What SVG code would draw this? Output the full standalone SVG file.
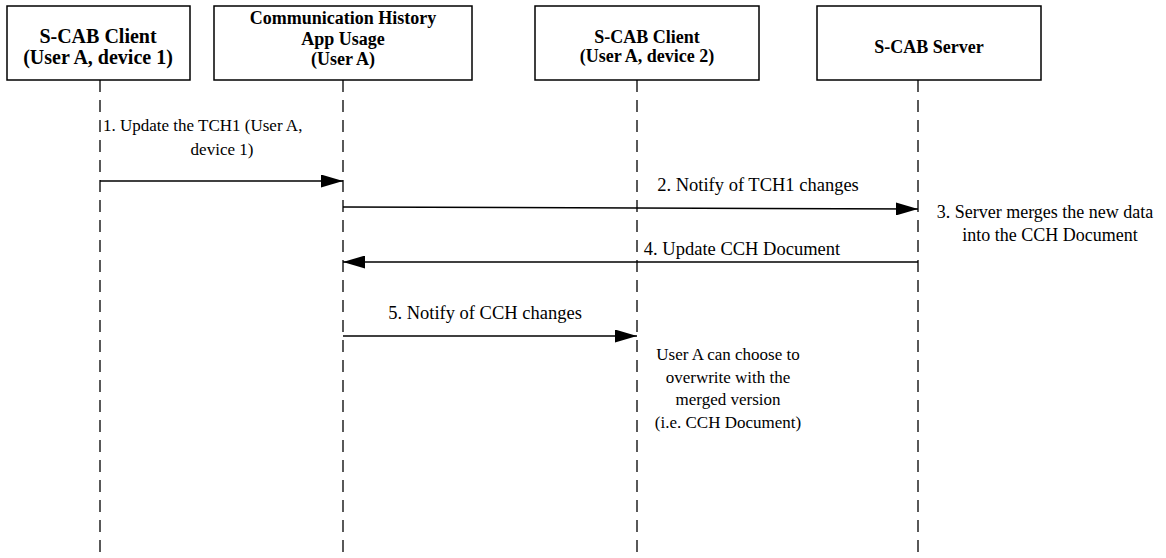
<svg xmlns="http://www.w3.org/2000/svg" width="1166" height="558" viewBox="0 0 1166 558">
<style>
.box{fill:#fff;stroke:#000;stroke-width:1.5}
.life{stroke:#000;stroke-width:1.3;stroke-dasharray:12 8;fill:none}
.msg{stroke:#000;stroke-width:1.5;fill:none}
.hd{font-family:"Liberation Serif","Times New Roman",serif;font-weight:bold;font-size:18px;text-anchor:middle;fill:#000}
.big{font-size:20px}
.lb{font-family:"Liberation Serif","Times New Roman",serif;font-size:17px;fill:#000}
.lb2{font-size:18.5px}
.mid{text-anchor:middle}
</style>
<defs>
<marker id="ah" markerWidth="22" markerHeight="13" refX="22" refY="6.5" orient="auto" markerUnits="userSpaceOnUse">
<path d="M0,0 L22,6.5 L0,13 Z" fill="#000"/>
</marker>
</defs>
<g id="lifelines">
<line class="life" x1="100" y1="80" x2="100" y2="558"/>
<line class="life" x1="343" y1="80" x2="343" y2="558"/>
<line class="life" x1="637" y1="80" x2="637" y2="558"/>
<line class="life" x1="918" y1="80" x2="918" y2="558"/>
</g>
<g id="client1">
<rect class="box" x="7" y="6" width="183" height="74"/>
<text class="hd big" x="98" y="43">S-CAB Client</text>
<text class="hd big" x="98" y="64">(User A, device 1)</text>
</g>
<g id="history">
<rect class="box" x="214" y="6" width="258" height="74"/>
<text class="hd" x="343" y="24">Communication History</text>
<text class="hd" x="343" y="45">App Usage</text>
<text class="hd" x="343" y="65">(User A)</text>
</g>
<g id="client2">
<rect class="box" x="535" y="6" width="224" height="74"/>
<text class="hd" x="647" y="43">S-CAB Client</text>
<text class="hd" x="647" y="62">(User A, device 2)</text>
</g>
<g id="server">
<rect class="box" x="817" y="6" width="224" height="74"/>
<text class="hd" x="929" y="53">S-CAB Server</text>
</g>
<g id="connectors">
<line class="msg" x1="100" y1="181" x2="343" y2="181" marker-end="url(#ah)"/>
<line class="msg" x1="343" y1="207" x2="918" y2="209" marker-end="url(#ah)"/>
<line class="msg" x1="918" y1="262" x2="343" y2="262" marker-end="url(#ah)"/>
<line class="msg" x1="343" y1="336" x2="637" y2="336" marker-end="url(#ah)"/>
</g>
<g id="labels">
<text class="lb" x="103" y="131">1. Update the TCH1 (User A,</text>
<text class="lb mid" x="222" y="155">device 1)</text>
<text class="lb lb2 mid" x="758" y="191">2. Notify of TCH1 changes</text>
<text class="lb mid" x="1045" y="218" style="font-size:18px">3. Server merges the new data</text>
<text class="lb mid" x="1050" y="241" style="font-size:18px">into the CCH Document</text>
<text class="lb lb2 mid" x="742" y="255">4. Update CCH Document</text>
<text class="lb lb2 mid" x="485" y="319">5. Notify of CCH changes</text>
<text class="lb mid" x="728" y="360">User A can choose to</text>
<text class="lb mid" x="728" y="383">overwrite with the</text>
<text class="lb mid" x="728" y="405">merged version</text>
<text class="lb mid" x="728" y="428">(i.e. CCH Document)</text>
</g>
</svg>
